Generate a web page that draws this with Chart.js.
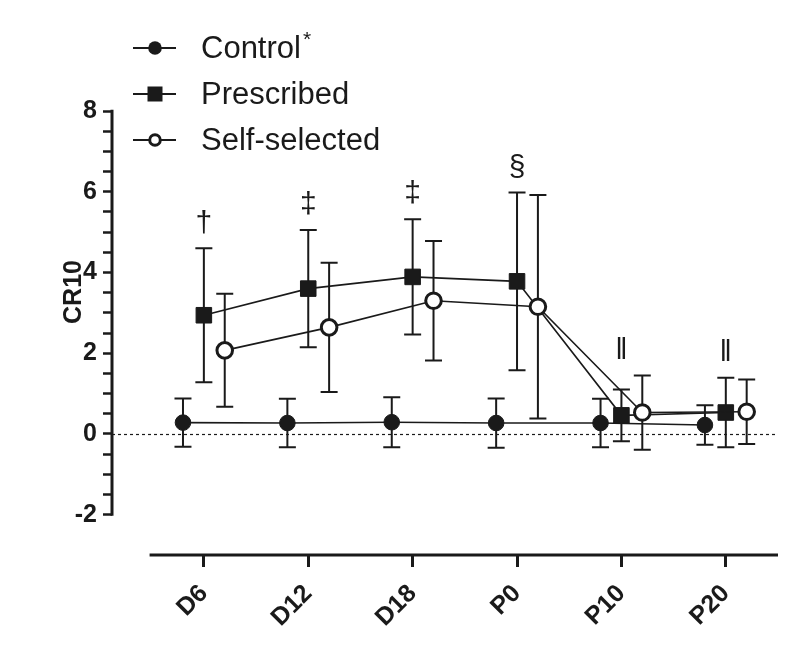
<!DOCTYPE html>
<html><head><meta charset="utf-8">
<script src="https://cdn.jsdelivr.net/npm/chart.js@4/dist/chart.umd.min.js"></script>
<style>html,body{margin:0;padding:0;background:#fff}#wrap{width:794px;height:650px;position:relative}</style>
</head><body><div id="wrap"><canvas id="c" width="794" height="650"></canvas></div>
<script>
// ---- data ----
const categories = ['D6', 'D12', 'D18', 'P0', 'P10', 'P20'];
const seriesNames = ['Control', 'Prescribed', 'Self-selected'];
const controlMean = [0.28, 0.27, 0.29, 0.27, 0.27, 0.22];
const controlSD = [0.60, 0.60, 0.62, 0.61, 0.60, 0.49];
const prescribedMean = [2.94, 3.60, 3.89, 3.78, 0.46, 0.53];
const prescribedSD = [1.66, 1.45, 1.43, 2.20, 0.64, 0.86];
const selfMean = [2.07, 2.64, 3.30, 3.15, 0.53, 0.55];
const selfSD = [1.40, 1.60, 1.48, 2.77, 0.92, 0.80];
const footnotes = ['\u2020', '\u2021', '\u2021', '\u00A7', '\u2016', '\u2016'];
const yTickLabels = [-2, 0, 2, 4, 6, 8];
const yTitle = 'CR10';

// ---- style ----
const FONT = "'Liberation Sans', Arial, Helvetica, sans-serif";
const INK = '#1a1a1a';

function pts(means, shift) { return means.map((v, i) => ({ x: i + shift, y: v })); }

const yTicks = [];
for (let v = yTickLabels[0]; v <= yTickLabels[yTickLabels.length - 1] + 1e-9; v += 0.5) yTicks.push(v);

const errorBars = {
  id: 'errorBars',
  beforeDatasetsDraw(chart) {
    const { ctx, scales: { x, y }, chartArea } = chart;
    ctx.save();
    ctx.strokeStyle = INK; ctx.lineWidth = 1.2; ctx.setLineDash([3, 3]);
    const y0 = Math.round(y.getPixelForValue(0)) + 0.5;
    ctx.beginPath(); ctx.moveTo(chartArea.left, y0); ctx.lineTo(chartArea.right, y0); ctx.stroke();
    ctx.setLineDash([]);
    ctx.lineWidth = 2;
    chart.data.datasets.forEach((ds) => {
      ds.data.forEach((p, i) => {
        const px = x.getPixelForValue(p.x);
        const top = y.getPixelForValue(p.y + ds.errors[i]);
        const bot = y.getPixelForValue(p.y - ds.errors[i]);
        ctx.beginPath();
        ctx.moveTo(px, top); ctx.lineTo(px, bot);
        ctx.moveTo(px - 8.5, top); ctx.lineTo(px + 8.5, top);
        ctx.moveTo(px - 8.5, bot); ctx.lineTo(px + 8.5, bot);
        ctx.stroke();
      });
    });
    ctx.restore();
  }
};

const decorations = {
  id: 'decorations',
  afterDraw(chart) {
    const { ctx, scales: { x, y }, chartArea } = chart;
    ctx.save();
    ctx.strokeStyle = INK; ctx.lineWidth = 3; ctx.lineCap = 'butt';
    ctx.beginPath();
    ctx.moveTo(chartArea.left, y.getPixelForValue(8) - 1.2);
    ctx.lineTo(chartArea.left, y.getPixelForValue(-2) + 1.2);
    ctx.stroke();
    ctx.beginPath();
    ctx.moveTo(x.getPixelForValue(-0.52), chartArea.bottom);
    ctx.lineTo(chartArea.right, chartArea.bottom);
    ctx.stroke();

    ctx.fillStyle = INK;
    ctx.font = 'bold 25px ' + FONT;
    ctx.textAlign = 'center'; ctx.textBaseline = 'middle';
    ctx.save();
    ctx.translate(74, 292); ctx.rotate(-Math.PI / 2);
    ctx.fillText(yTitle, 0, 0);
    ctx.restore();

    ctx.font = '30px ' + FONT;
    footnotes.forEach((s, i) => {
      const top = Math.max(prescribedMean[i] + prescribedSD[i], selfMean[i] + selfSD[i]);
      ctx.fillText(s, x.getPixelForValue(i), y.getPixelForValue(top) - 25);
    });

    const rows = [48, 94, 140];
    ctx.textAlign = 'left';
    seriesNames.forEach((name, k) => {
      const ry = rows[k];
      ctx.strokeStyle = INK; ctx.lineWidth = 2;
      ctx.beginPath(); ctx.moveTo(133, ry); ctx.lineTo(176, ry); ctx.stroke();
      ctx.fillStyle = INK;
      if (k === 0) { ctx.beginPath(); ctx.arc(155, ry, 6.8, 0, Math.PI * 2); ctx.fill(); }
      else if (k === 1) { ctx.fillRect(147.5, ry - 7.5, 15, 15); }
      else {
        ctx.beginPath(); ctx.arc(155, ry, 5.3, 0, Math.PI * 2);
        ctx.fillStyle = '#fff'; ctx.fill(); ctx.lineWidth = 3; ctx.stroke();
      }
      ctx.fillStyle = INK;
      ctx.font = '31px ' + FONT;
      ctx.fillText(name, 201, ry + 1);
      if (k === 0) {
        const w = ctx.measureText(name).width;
        ctx.font = '21px ' + FONT;
        ctx.fillText('*', 201 + w + 2, ry - 8);
      }
    });
    ctx.restore();
  }
};

new Chart(document.getElementById('c'), {
  type: 'line',
  data: {
    datasets: [
      { label: seriesNames[2], data: pts(selfMean, 0.2), errors: selfSD,
        borderColor: INK, borderWidth: 1.6, pointStyle: 'circle', pointRadius: 7.8, pointHoverRadius: 7.8,
        pointBackgroundColor: '#fff', pointBorderColor: INK, pointBorderWidth: 3, fill: false, tension: 0 },
      { label: seriesNames[1], data: pts(prescribedMean, 0), errors: prescribedSD,
        borderColor: INK, borderWidth: 1.6, pointStyle: 'rect', pointRadius: 11, pointHoverRadius: 11,
        pointBackgroundColor: INK, pointBorderColor: INK, pointBorderWidth: 1, fill: false, tension: 0 },
      { label: seriesNames[0], data: pts(controlMean, -0.2), errors: controlSD,
        borderColor: INK, borderWidth: 1.6, pointStyle: 'circle', pointRadius: 7.8, pointHoverRadius: 7.8,
        pointBackgroundColor: INK, pointBorderColor: INK, pointBorderWidth: 1, fill: false, tension: 0 }
    ]
  },
  options: {
    responsive: false, animation: false, devicePixelRatio: 1,
    layout: { padding: { top: 111, right: 16, left: 0, bottom: 0 } },
    plugins: { legend: { display: false }, tooltip: { enabled: false }, title: { display: false } },
    scales: {
      x: {
        type: 'linear', min: -0.88, max: 5.5,
        afterBuildTicks: s => { s.ticks = categories.map((_, i) => ({ value: i })); },
        afterFit: s => { s.height = 95; },
        ticks: { autoSkip: false, maxRotation: 45, minRotation: 45, padding: 12, color: INK,
          font: { family: FONT, size: 25, weight: 'bold' }, callback: (v, i) => categories[i] },
        grid: { drawOnChartArea: false, drawTicks: true, tickLength: 12, tickWidth: 3, tickColor: INK },
        border: { display: false }
      },
      y: {
        min: -3, max: 8,
        afterBuildTicks: s => { s.ticks = yTicks.map(v => ({ value: v })); },
        afterFit: s => { s.width = 112; },
        ticks: { autoSkip: false, padding: 6, color: INK,
          font: { family: FONT, size: 25, weight: 'bold' },
          callback: v => yTickLabels.includes(v) ? String(v) : '' },
        grid: { drawOnChartArea: false, drawTicks: true, tickLength: 9, tickWidth: 2.5, tickColor: INK },
        border: { display: false }
      }
    }
  },
  plugins: [errorBars, decorations]
});
</script>
</body></html>
